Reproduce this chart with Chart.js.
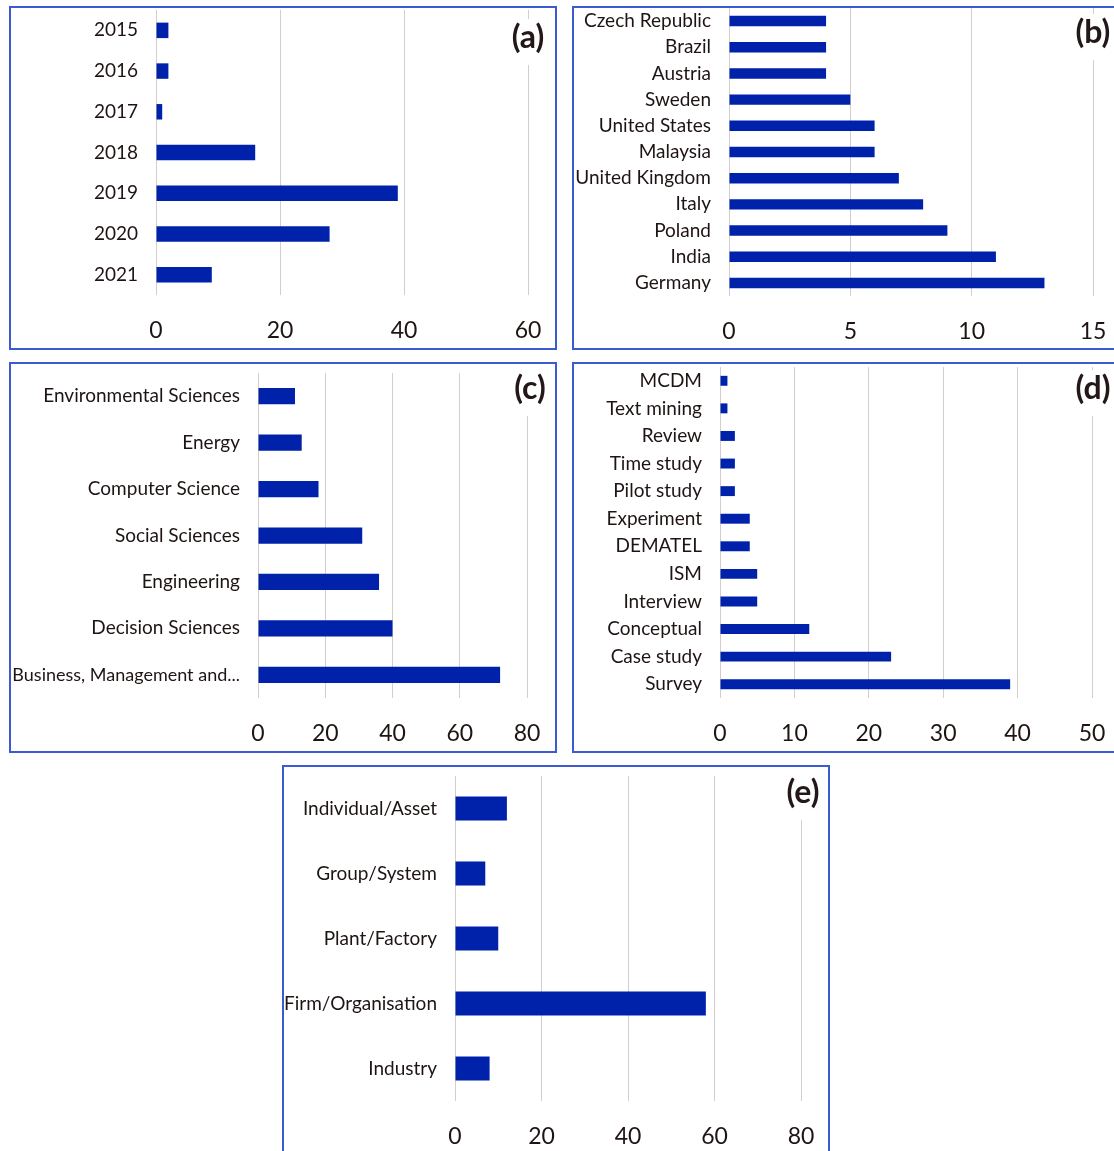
<!DOCTYPE html>
<html>
<head>
<meta charset="utf-8">
<script src="https://cdn.jsdelivr.net/npm/chart.js@4/dist/chart.umd.min.js"></script>
<style>
  body { margin: 0; background: #fff; width: 1114px; height: 1151px; overflow: hidden; position: relative; }
  .panel { position: absolute; border: 2px solid #3d5bd0; box-sizing: border-box; }
  .panel canvas { position: absolute; left: 0; top: 0; }
  .tag { position: absolute; font: bold 32px Lato, sans-serif; color: #231717; background: #fff;
         padding: 0 3px 12px; line-height: 34px; transform: translate(-50%, -17px); }
</style>
</head>
<body>
<div class="panel" id="pa"><canvas id="ca"></canvas></div>
<div class="panel" id="pb"><canvas id="cb"></canvas></div>
<div class="panel" id="pc"><canvas id="cc"></canvas></div>
<div class="panel" id="pd"><canvas id="cd"></canvas></div>
<div class="panel" id="pe"><canvas id="ce"></canvas></div>
<script>
"use strict";

// (a) publications per year
var yearLabels = ["2015", "2016", "2017", "2018", "2019", "2020", "2021"];
var yearValues = [2, 2, 1, 16, 39, 28, 9];
var yearTicks = [0, 20, 40, 60];

// (b) countries
var countryLabels = ["Czech Republic", "Brazil", "Austria", "Sweden", "United States", "Malaysia",
  "United Kingdom", "Italy", "Poland", "India", "Germany"];
var countryValues = [4, 4, 4, 5, 6, 6, 7, 8, 9, 11, 13];
var countryTicks = [0, 5, 10, 15];

// (c) subject areas
var subjectLabels = ["Environmental Sciences", "Energy", "Computer Science", "Social Sciences",
  "Engineering", "Decision Sciences", "Business, Management and..."];
var subjectValues = [11, 13, 18, 31, 36, 40, 72];
var subjectTicks = [0, 20, 40, 60, 80];

// (d) methods
var methodLabels = ["MCDM", "Text mining", "Review", "Time study", "Pilot study", "Experiment",
  "DEMATEL", "ISM", "Interview", "Conceptual", "Case study", "Survey"];
var methodValues = [1, 1, 2, 2, 2, 4, 4, 5, 5, 12, 23, 39];
var methodTicks = [0, 10, 20, 30, 40, 50];

// (e) level of analysis
var levelLabels = ["Individual/Asset", "Group/System", "Plant/Factory", "Firm/Organisation", "Industry"];
var levelValues = [12, 7, 10, 58, 8];
var levelTicks = [0, 20, 40, 60, 80];

var barColor = "#0022aa";
var textColor = "#1f1414";
var gridColor = "#d4cdcd";
var fontFamily = "Lato, 'Open Sans', sans-serif";
var BORDER = 2;

// drop the extra room chart.js keeps for overflowing tick labels
function noPadding(scale) {
  scale.paddingTop = 0;
  scale.paddingBottom = 0;
  scale.paddingLeft = 0;
  scale.paddingRight = 0;
}

function makePanel(opt) {
  var panel = document.getElementById(opt.panelId);
  var canvas = document.getElementById(opt.canvasId);
  var w = opt.box.r - opt.box.l;
  var h = opt.box.b - opt.box.t;
  panel.style.left = opt.box.l + "px";
  panel.style.top = opt.box.t + "px";
  panel.style.width = w + "px";
  panel.style.height = h + "px";

  // canvas sits inside the border
  var ox = opt.box.l + BORDER;
  var oy = opt.box.t + BORDER;
  var cw = w - 2 * BORDER;
  var ch = h - 2 * BORDER;
  canvas.width = cw;
  canvas.height = ch;
  canvas.style.width = cw + "px";
  canvas.style.height = ch + "px";

  var yAxisWidth = opt.area.x0 - ox;
  var xAxisHeight = (oy + ch) - opt.area.y1;

  var tag = document.createElement("div");
  tag.className = "tag";
  tag.textContent = opt.tag;
  tag.style.left = (opt.tagPos[0] - ox) + "px";
  tag.style.top = (opt.tagPos[1] - oy) + "px";
  panel.appendChild(tag);

  // long labels (Excel truncated them) get a slightly smaller font so they fit
  var labelFont = function(ctx) {
    var text = opt.labels[ctx.index] || "";
    return { family: fontFamily, size: text.length > 22 ? 18 : 19 };
  };

  new Chart(canvas, {
    type: "bar",
    data: {
      labels: opt.labels,
      datasets: [
        {
          data: opt.values,
          backgroundColor: barColor,
          barPercentage: opt.barPct,
          categoryPercentage: 1
        }
      ]
    },
    options: {
      indexAxis: "y",
      responsive: false,
      animation: false,
      events: [],
      layout: {
        padding: { top: opt.area.y0 - oy, right: (ox + cw) - opt.area.x1, left: 0, bottom: 0 }
      },
      plugins: { legend: { display: false }, tooltip: { enabled: false } },
      scales: {
        x: {
          min: opt.ticks[0],
          max: opt.ticks[opt.ticks.length - 1],
          afterBuildTicks: function(scale) {
            scale.ticks = opt.ticks.map(function(v) { return { value: v }; });
          },
          afterFit: function(scale) {
            scale.height = xAxisHeight;
            noPadding(scale);
          },
          grid: { color: gridColor, lineWidth: 1, drawTicks: false },
          border: { display: false },
          ticks: { color: textColor, font: { family: fontFamily, size: 23 }, padding: opt.tickPad }
        },
        y: {
          afterFit: function(scale) {
            scale.width = yAxisWidth;
            noPadding(scale);
          },
          grid: { display: false, drawTicks: false },
          border: { display: false },
          ticks: { color: textColor, font: labelFont, padding: opt.labelPad, autoSkip: false }
        }
      }
    }
  });
}

makePanel({
  panelId: "pa", canvasId: "ca", tag: "(a)",
  box: { l: 9, t: 6, r: 557, b: 350 },
  area: { x0: 156, x1: 528, y0: 10, y1: 295 },
  labels: yearLabels, values: yearValues, ticks: yearTicks,
  barPct: 0.38, tickPad: 22, labelPad: 18, tagPos: [528, 36]
});

makePanel({
  panelId: "pb", canvasId: "cb", tag: "(b)",
  box: { l: 572, t: 6, r: 1118, b: 350 },
  area: { x0: 729, x1: 1093, y0: 5, y1: 296 },
  labels: countryLabels, values: countryValues, ticks: countryTicks,
  barPct: 0.4, tickPad: 22, labelPad: 18, tagPos: [1093, 31]
});

makePanel({
  panelId: "pc", canvasId: "cc", tag: "(c)",
  box: { l: 9, t: 362, r: 557, b: 753 },
  area: { x0: 258, x1: 527, y0: 373, y1: 698 },
  labels: subjectLabels, values: subjectValues, ticks: subjectTicks,
  barPct: 0.35, tickPad: 22, labelPad: 18, tagPos: [530, 387]
});

makePanel({
  panelId: "pd", canvasId: "cd", tag: "(d)",
  box: { l: 572, t: 362, r: 1118, b: 753 },
  area: { x0: 720, x1: 1092, y0: 367, y1: 698 },
  labels: methodLabels, values: methodValues, ticks: methodTicks,
  barPct: 0.36, tickPad: 22, labelPad: 18, tagPos: [1093, 387]
});

makePanel({
  panelId: "pe", canvasId: "ce", tag: "(e)",
  box: { l: 282, t: 765, r: 830, b: 1156 },
  area: { x0: 455, x1: 801, y0: 776, y1: 1101 },
  labels: levelLabels, values: levelValues, ticks: levelTicks,
  barPct: 0.37, tickPad: 22, labelPad: 18, tagPos: [803, 791]
});
</script>
</body>
</html>
